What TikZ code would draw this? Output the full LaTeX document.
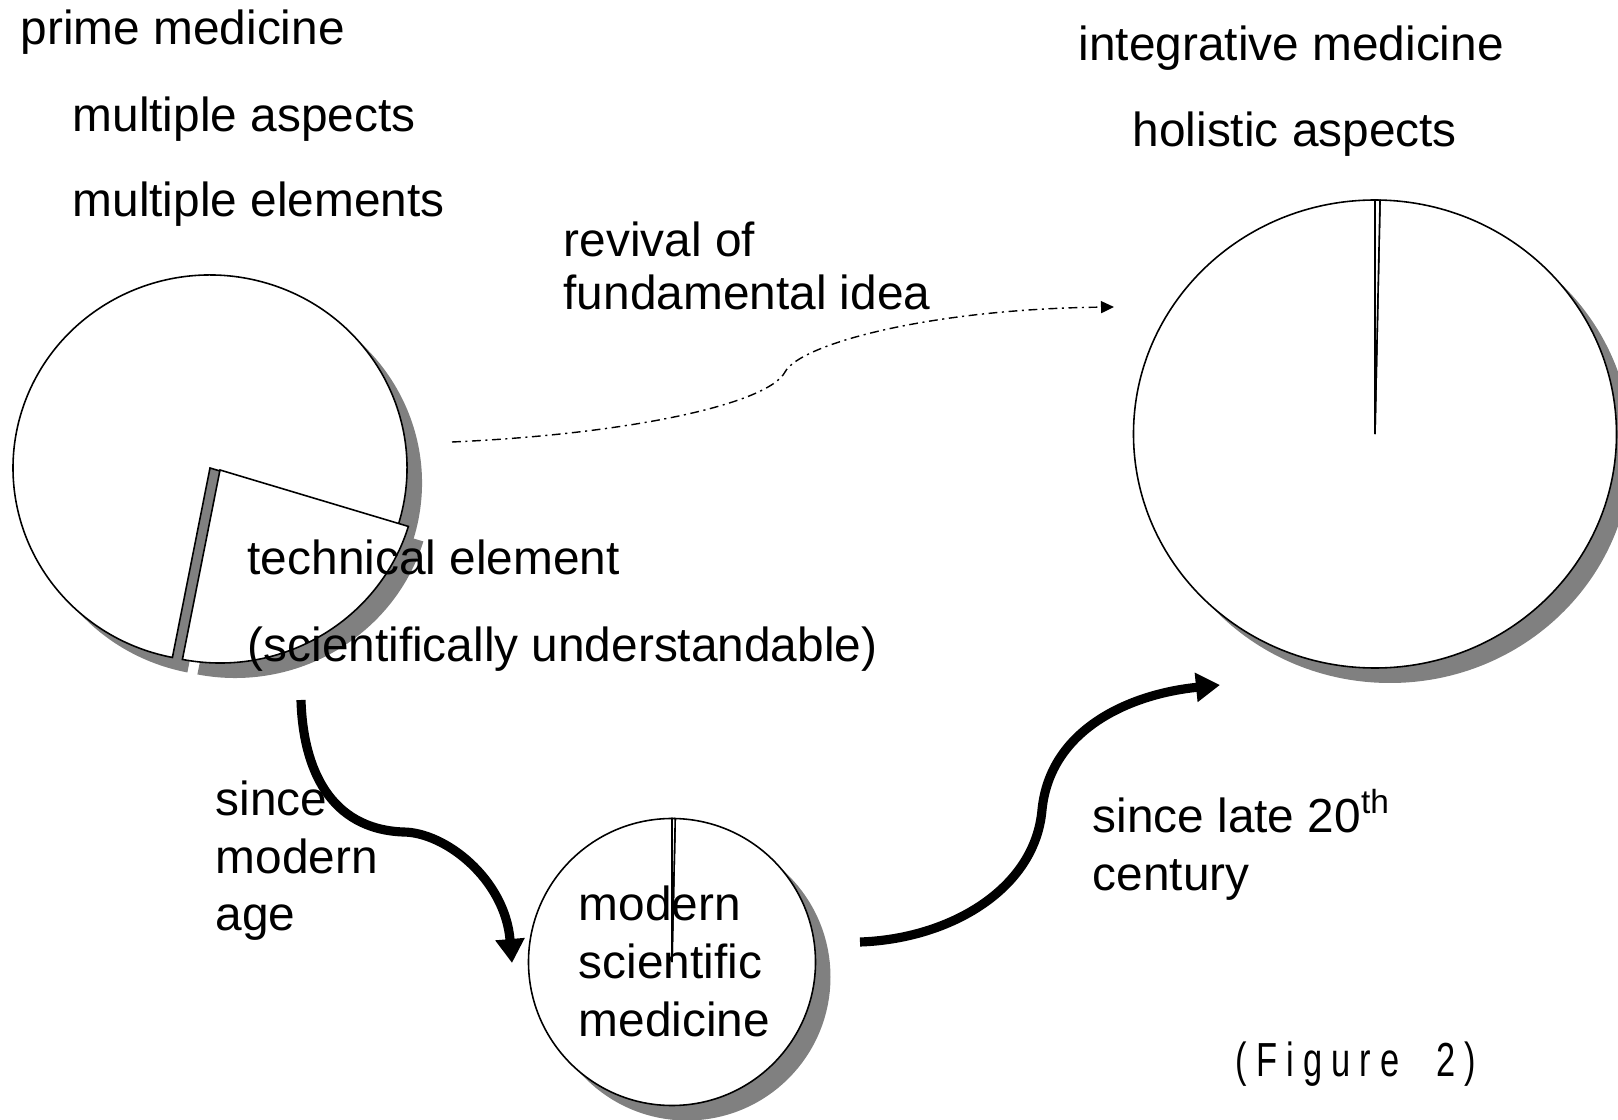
\documentclass[tikz,border=0pt]{standalone}
\usepackage{fontspec}
\setmainfont{Liberation Sans}
\newfontfamily\figfont[FakeStretch=0.72,LetterSpace=19]{Liberation Sans}
\usetikzlibrary{arrows.meta}
\definecolor{shade}{RGB}{128,128,128}

\begin{document}
\begin{tikzpicture}[
    lbl/.style={anchor=base west,inner sep=0pt,font=\fontsize{13.6}{16.5}\selectfont},
    pie/.style={draw=black,fill=white,line width=0.45pt},
    pieshadow/.style={fill=shade,draw=none},
    bigarrow/.style={line width=2.6pt,-{Triangle[length=0.24cm,width=0.28cm]}},
    dasharrow/.style={line width=0.4pt,dash pattern=on 2.5pt off 1.3pt on 0.6pt off 1.3pt,-{Triangle[length=0.13cm,width=0.12cm]}}]
        \useasboundingbox (0,0) rectangle (16.18,11.19);

        % shadows
        \begin{scope}[shift={(0.15,-0.15)}]
        \fill[pieshadow] (2.10,6.51) -- ++(-17:1.97cm and 1.93cm) arc[start angle=-17,end angle=259,x radius=1.97cm,y radius=1.93cm] -- cycle;
        \fill[pieshadow] (2.20,6.49) -- ++(-101:1.97cm and 1.93cm) arc[start angle=-101,end angle=-17,x radius=1.97cm,y radius=1.93cm] -- cycle;
        \fill[pieshadow] (13.75,6.85) ellipse[x radius=2.415cm,y radius=2.34cm];
        \fill[pieshadow] (6.72,1.57) circle[radius=1.435cm];
        \end{scope}

        % pies
        \draw[pie] (2.10,6.51) -- ++(-17:1.97cm and 1.93cm) arc[start angle=-17,end angle=259,x radius=1.97cm,y radius=1.93cm] -- cycle;
        \draw[pie] (2.20,6.49) -- ++(-101:1.97cm and 1.93cm) arc[start angle=-101,end angle=-17,x radius=1.97cm,y radius=1.93cm] -- cycle;
        \draw[pie] (13.75,6.85) -- ++(90:2.415cm and 2.34cm) arc[start angle=90,end angle=448.8,x radius=2.415cm,y radius=2.34cm] -- cycle;
        \draw[pie] (13.75,6.85) -- ++(88.8:2.415cm and 2.34cm) arc[start angle=88.8,end angle=90,x radius=2.415cm,y radius=2.34cm] -- cycle;
        \draw[pie] (6.72,1.57) -- ++(90:1.435cm) arc[start angle=90,end angle=448.7,radius=1.435cm] -- cycle;
        \draw[pie] (6.72,1.57) -- ++(88.7:1.435cm) arc[start angle=88.7,end angle=90,radius=1.435cm] -- cycle;

        \node[lbl] (prime) at (0.20,10.74) {prime medicine};
        \node[lbl] (aspects) at (0.72,9.87) {multiple aspects};
        \node[lbl] (elements) at (0.72,9.02) {multiple elements};
        \node[lbl] (integ) at (10.78,10.58) {integrative medicine};
        \node[lbl] (holistic) at (11.32,9.72) {holistic aspects};
        \node[lbl] (revival) at (5.63,8.62) {revival of};
        \node[lbl] (fundam) at (5.63,8.09) {fundamental idea};
        \node[lbl] (technical) at (2.47,5.44) {technical element};
        \node[lbl] (sciund) at (2.47,4.57) {(scientifically understandable)};
        \node[lbl] (since) at (2.15,3.04) {since};
        \node[lbl] (modern) at (2.15,2.46) {modern};
        \node[lbl] (age) at (2.15,1.89) {age};
        \node[lbl] (msm1) at (5.78,1.99) {modern};
        \node[lbl] (msm2) at (5.78,1.41) {scientific};
        \node[lbl] (msm3) at (5.78,0.82) {medicine};
        \node[lbl] (late) at (10.92,2.87) {since late 20\textsuperscript{th}};
        \node[lbl] (century) at (10.92,2.29) {century};
        \node[lbl,font=\fontsize{13.6}{16.5}\figfont] (fig) at (12.35,0.42) {(Figure\ \ 2)};

        \coordinate (revstart) at (4.52,6.77);
        \coordinate (revend) at (11.14,8.12);
        \coordinate (downstart) at (3.01,4.19);
        \coordinate (downend) at (5.12,1.56);
        \coordinate (upstart) at (8.60,1.77);
        \coordinate (upend) at (12.20,4.34);

	\draw[dasharrow] (revstart) .. controls (6.3,6.85) and (7.68,7.15) .. (7.85,7.47) .. controls (8.0,7.75) and (9.3,8.10) .. (revend);
	\draw[bigarrow] (downstart) .. controls (3.03,3.50) and (3.30,2.90) .. (4.03,2.87) .. controls (4.45,2.87) and (5.05,2.40) .. (downend);
	\draw[bigarrow] (upstart) .. controls (9.50,1.80) and (10.35,2.30) .. (10.42,3.09) .. controls (10.50,3.90) and (11.30,4.25) .. (upend);
\end{tikzpicture}
\end{document}
